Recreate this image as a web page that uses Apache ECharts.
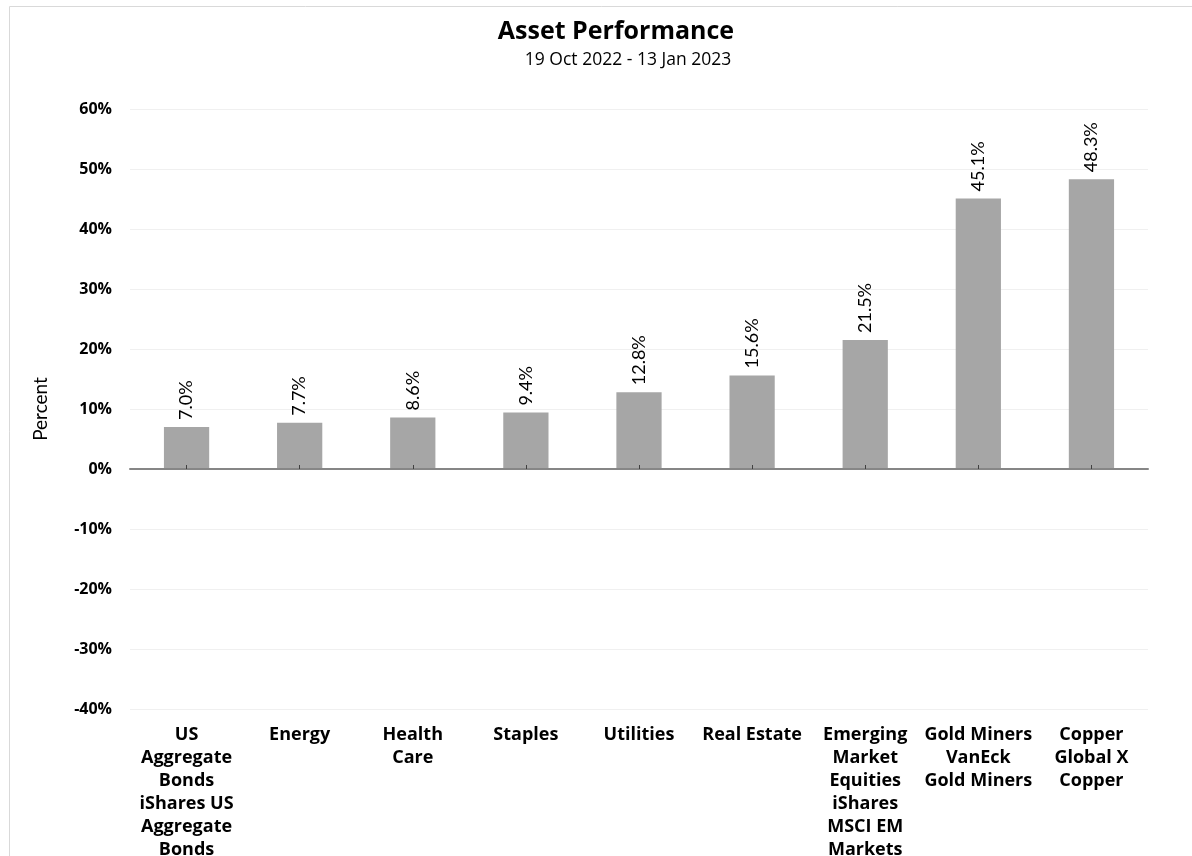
<!DOCTYPE html>
<html>
<head>
<meta charset="utf-8">
<script src="https://cdn.jsdelivr.net/npm/echarts@6/dist/echarts.min.js"></script>
<style>
    html, body { margin: 0; padding: 0; background: #fff; }
    #chart { width: 1192px; height: 856px; }
</style>
</head>
<body>
<div id="chart"></div>
<script>
const categories = [
    'US\nAggregate\nBonds\niShares US\nAggregate\nBonds',
    'Energy',
    'Health\nCare',
    'Staples',
    'Utilities',
    'Real Estate',
    'Emerging\nMarket\nEquities\niShares\nMSCI EM\nMarkets',
    'Gold Miners\nVanEck\nGold Miners',
    'Copper\nGlobal X\nCopper',
];
const performance = [7.0, 7.7, 8.6, 9.4, 12.8, 15.6, 21.5, 45.1, 48.3];
const yTicks = {min: -40, max: 60, step: 10};

const boldFont = '"Open Sans", Lato, sans-serif';
const lightFont = 'Lato, "Open Sans", sans-serif';
const chart = echarts.init(document.getElementById('chart'));

chart.setOption({
    animation: false,
    textStyle: {fontFamily: lightFont},
    title: [
        {
            text: 'Asset Performance',
            left: 611,
            top: 14,
            textAlign: 'center',
            textStyle: {fontFamily: boldFont, fontSize: 25, fontWeight: 'bold', color: '#000'},
        },
        {
            text: '19 Oct 2022 - 13 Jan 2023',
            left: 623,
            top: 46,
            textAlign: 'center',
            textStyle: {fontFamily: boldFont, fontSize: 17.5, fontWeight: 'normal', color: '#000'},
        },
    ],
    graphic: [
        {
            type: 'rect',
            shape: {x: 9.5, y: 6.5, width: 1300, height: 1000},
            style: {fill: 'none', stroke: '#d9d9d9', lineWidth: 1},
            silent: true,
        },
    ],
    grid: {left: 130, right: 44, top: 109, bottom: 147, outerBoundsMode: 'none', containLabel: false},
    xAxis: {
        type: 'category',
        data: categories,
        z: 5,
        axisLine: {onZero: true, lineStyle: {color: '#868686', width: 2}},
        axisTick: {show: true, inside: true, alignWithLabel: true, length: 4, lineStyle: {color: '#404040'}},
        axisLabel: {
            interval: 0,
            fontFamily: boldFont,
            fontSize: 18,
            fontWeight: 'bold',
            color: '#000',
            lineHeight: 23,
            margin: 14,
        },
    },
    yAxis: {
        type: 'value',
        min: yTicks.min,
        max: yTicks.max,
        interval: yTicks.step,
        name: 'Percent',
        nameLocation: 'middle',
        nameGap: 80,
        nameTextStyle: {fontFamily: lightFont, fontSize: 19, color: '#000'},
        axisLine: {show: false},
        axisTick: {show: false},
        axisLabel: {
            formatter: v => v + '%',
            fontFamily: boldFont,
            fontSize: 16,
            fontWeight: 'bold',
            color: '#000',
            margin: 18,
        },
        splitLine: {lineStyle: {color: '#f0f0f0', width: 1}},
    },
    series: [
        {
            type: 'bar',
            data: performance,
            barWidth: '40%',
            itemStyle: {color: '#a6a6a6'},
            label: {
                show: true,
                position: 'top',
                rotate: 90,
                align: 'left',
                verticalAlign: 'middle',
                distance: 7,
                formatter: p => p.value.toFixed(1) + '%',
                fontFamily: lightFont,
                fontSize: 18,
                color: '#000',
            },
        },
    ],
});
</script>
</body>
</html>
